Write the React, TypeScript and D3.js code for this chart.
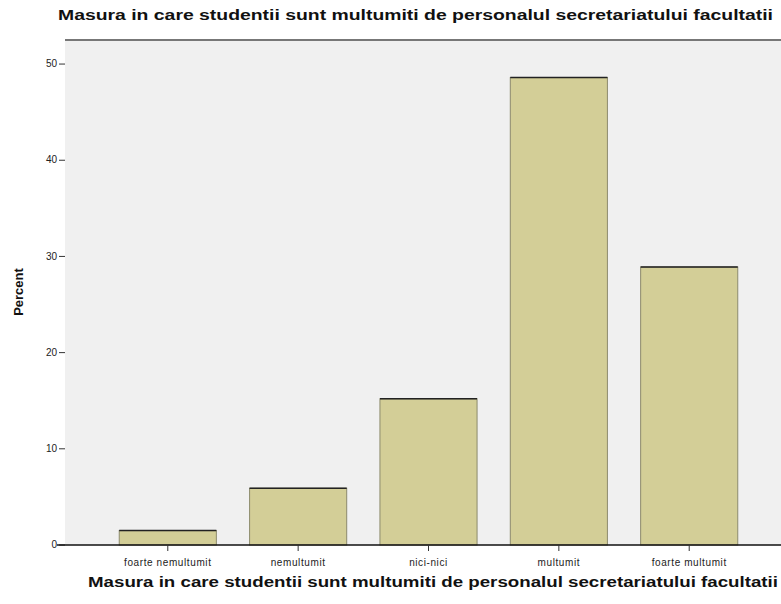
import React from "react"
import * as d3 from "d3"

const categories = [
  "foarte nemultumit",
  "nemultumit",
  "nici-nici",
  "multumit",
  "foarte multumit"
]
const percents = [1.5, 5.9, 15.2, 48.6, 28.9]
const yTicks = [0, 10, 20, 30, 40, 50]

const title = "Masura in care studentii sunt multumiti de personalul secretariatului facultatii"

const width = 781
const height = 604
const plot = { left: 65, right: 781, top: 40, bottom: 545 }

export default function App() {
  const x = d3
    .scaleBand()
    .domain(categories)
    .range([86, 771])
    .padding(0.255)

  const y = d3.scaleLinear().domain([0, 52.5]).range([plot.bottom, plot.top])

  return (
    <div style={{ position: "absolute", left: 0, top: 0, background: "white" }}>
      <svg width={width} height={height} style={{ display: "block", fontFamily: "Arial, 'Liberation Sans', sans-serif" }}>
        <rect x={0} y={0} width={width} height={height} fill="white" />
        <text
          x={58}
          y={20}
          textLength={715}
          lengthAdjust="spacingAndGlyphs"
          fontSize={14}
          fontWeight="bold"
          fill="#111"
        >
          {title}
        </text>
        <rect
          x={plot.left}
          y={plot.top}
          width={plot.right - plot.left}
          height={plot.bottom - plot.top}
          fill="#f0f0f0"
        />
        <line x1={plot.left} x2={plot.right} y1={plot.top} y2={plot.top} stroke="#777" strokeWidth={2} />

        {categories.map((c, i) => {
          const bx = x(c) as number
          const by = y(percents[i])
          return (
            <g key={c}>
              <rect
                x={bx}
                y={by}
                width={x.bandwidth()}
                height={y(0) - by}
                fill="#d3ce97"
                stroke="#8c8a6c"
                strokeWidth={1}
              />
              <line x1={bx} x2={bx + x.bandwidth()} y1={by} y2={by} stroke="#222" strokeWidth={1.5} />
            </g>
          )
        })}

        {yTicks.map(t => (
          <g key={t} transform={`translate(0 ${y(t)})`}>
            <line x1={plot.left - 6} x2={plot.left} stroke="#333" />
            <text x={plot.left - 8} dy="0.32em" textAnchor="end" fontSize={10} fill="#222">
              {t}
            </text>
          </g>
        ))}

        <line x1={57} x2={plot.right} y1={plot.bottom} y2={plot.bottom} stroke="#111" strokeWidth={1.5} />
        {categories.map(c => {
          const cx = (x(c) as number) + x.bandwidth() / 2
          return (
            <g key={c} transform={`translate(${cx} ${plot.bottom})`}>
              <line y1={0} y2={6} stroke="#333" />
              <text y={21} textAnchor="middle" fontSize={10} letterSpacing={0.6} fill="#222">
                {c}
              </text>
            </g>
          )
        })}

        <text
          transform={`translate(23 ${292}) rotate(-90)`}
          textAnchor="middle"
          fontSize={13}
          fontWeight="bold"
          fill="#111"
        >
          Percent
        </text>
        <text
          x={88}
          y={587}
          textLength={690}
          lengthAdjust="spacingAndGlyphs"
          fontSize={14.5}
          fontWeight="bold"
          fill="#111"
        >
          {title}
        </text>
      </svg>
    </div>
  )
}
